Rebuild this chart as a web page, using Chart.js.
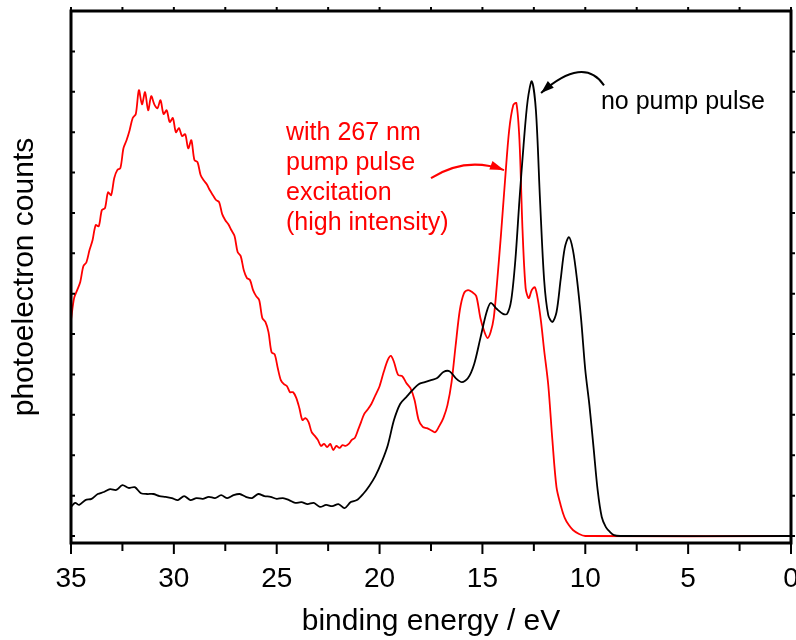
<!DOCTYPE html>
<html>
<head>
<meta charset="utf-8">
<script src="https://cdn.jsdelivr.net/npm/chart.js@4"></script>
<style>
  html, body { margin: 0; padding: 0; background: #fff; }
  #wrap { width: 796px; height: 640px; }
</style>
</head>
<body>
<div id="wrap"><canvas id="spectrum" width="796" height="640"></canvas></div>
<script>
// no pump pulse (black)
const blackEnergy = [35.0, 34.8, 34.6, 34.3, 34.0, 33.7, 33.4, 33.1, 32.8, 32.5, 32.2, 31.9, 31.6, 31.3, 31.0,
  30.7, 30.4, 30.1, 29.8, 29.5, 29.2, 28.9, 28.6, 28.3, 28.0, 27.7, 27.4, 27.1, 26.8, 26.5, 26.2, 25.9, 25.6,
  25.3, 25.0, 24.7, 24.4, 24.1, 23.8, 23.5, 23.2, 22.9, 22.6, 22.3, 22.0, 21.7, 21.4, 21.1, 20.8, 20.5, 20.2,
  19.9, 19.6, 19.3, 19.0, 18.7, 18.4, 18.1, 17.8, 17.5, 17.2, 16.9, 16.6, 16.3, 16.0, 15.7, 15.4, 15.1, 14.8,
  14.6, 14.3, 14.0, 13.8, 13.6, 13.4, 13.2, 13.0, 12.8, 12.6, 12.4, 12.2, 12.0, 11.8, 11.6, 11.4, 11.2, 11.0,
  10.8, 10.6, 10.4, 10.2, 10.0, 9.8, 9.6, 9.4, 9.2, 9.0, 8.8, 8.6, 8.3, 0];
const blackCounts = [0.72, 0.82, 0.77, 0.89, 0.92, 1.04, 1.09, 1.16, 1.14, 1.26, 1.19, 1.21, 1.06, 1.04, 1.04,
  0.99, 0.97, 0.94, 0.89, 0.99, 0.89, 0.94, 0.92, 0.97, 0.94, 1.01, 0.94, 1.01, 1.04, 0.97, 0.94, 1.04, 0.99,
  0.97, 0.92, 0.94, 0.89, 0.82, 0.84, 0.79, 0.82, 0.72, 0.77, 0.74, 0.79, 0.69, 0.84, 0.89, 1.04, 1.24, 1.49,
  1.83, 2.25, 2.87, 3.27, 3.44, 3.61, 3.76, 3.81, 3.86, 3.91, 4.06, 4.08, 3.91, 3.81, 3.91, 4.26, 4.90, 5.54,
  5.77, 5.62, 5.50, 5.50, 5.84, 6.83, 8.32, 9.68, 10.79, 11.26, 10.54, 8.32, 6.34, 5.47, 5.30, 5.54, 6.34, 7.13,
  7.40, 7.08, 6.34, 5.35, 4.11, 3.24, 2.20, 1.14, 0.47, 0.22, 0.10, 0.02, 0, 0];

// with 267 nm pump pulse (red)
const redEnergy = [35.0, 34.85, 34.7, 34.55, 34.4, 34.25, 34.1, 33.95, 33.8, 33.65, 33.5, 33.35, 33.2, 33.05,
  32.9, 32.75, 32.6, 32.45, 32.3, 32.15, 32.0, 31.85, 31.7, 31.55, 31.4, 31.25, 31.1, 30.95, 30.8, 30.65, 30.5,
  30.35, 30.2, 30.05, 29.9, 29.75, 29.6, 29.45, 29.3, 29.15, 29.0, 28.85, 28.7, 28.55, 28.4, 28.25, 28.1, 27.95,
  27.8, 27.65, 27.5, 27.35, 27.2, 27.05, 26.9, 26.75, 26.6, 26.45, 26.3, 26.15, 26.0, 25.85, 25.7, 25.55, 25.4,
  25.25, 25.1, 24.95, 24.8, 24.65, 24.5, 24.35, 24.2, 24.05, 23.9, 23.75, 23.6, 23.45, 23.3, 23.15, 23.0, 22.85,
  22.7, 22.55, 22.4, 22.25, 22.1, 21.95, 21.8, 21.65, 21.5, 21.35, 21.2, 21.05, 20.9, 20.75, 20.6, 20.4, 20.2,
  20.0, 19.8, 19.6, 19.45, 19.3, 19.1, 18.9, 18.7, 18.5, 18.3, 18.1, 17.9, 17.7, 17.5, 17.3, 17.1, 16.9, 16.7,
  16.5, 16.3, 16.1, 15.9, 15.7, 15.5, 15.3, 15.1, 14.9, 14.75, 14.6, 14.45, 14.3, 14.1, 13.9, 13.7, 13.5, 13.35,
  13.2, 13.05, 12.9, 12.75, 12.6, 12.45, 12.3, 12.15, 12.0, 11.8, 11.6, 11.4, 11.2, 11.0, 10.8, 10.6, 10.3,
  10.0, 0];
const redCounts = [5.35, 5.89, 6.09, 6.29, 6.68, 6.78, 7.08, 7.33, 7.70, 7.67, 8.07, 8.12, 8.51, 8.44,
  8.86, 9.06, 9.11, 9.60, 9.80, 10.05, 10.35, 10.45, 11.04, 10.69, 10.99, 10.54, 10.89, 10.69, 10.59, 10.79, 10.45,
  10.54, 10.25, 10.35, 10.00, 10.10, 9.90, 9.95, 9.60, 9.80, 9.31, 9.26, 8.94, 8.81, 8.71, 8.56, 8.44, 8.32,
  8.27, 7.97, 7.82, 7.72, 7.57, 7.43, 7.03, 6.93, 6.58, 6.39, 6.34, 6.09, 5.94, 5.84, 5.40, 5.30, 5.05,
  4.55, 4.50, 4.16, 3.86, 3.76, 3.71, 3.56, 3.56, 3.42, 3.17, 2.87, 2.92, 2.82, 2.57, 2.48, 2.38, 2.23,
  2.28, 2.20, 2.28, 2.13, 2.23, 2.18, 2.25, 2.23, 2.28, 2.38, 2.43, 2.62, 2.82, 3.02, 3.12, 3.27, 3.49,
  3.71, 4.06, 4.36, 4.46, 4.31, 3.99, 3.96, 3.79, 3.66, 3.37, 2.87, 2.70, 2.67, 2.62, 2.57, 2.72, 2.92, 3.24,
  3.81, 4.73, 5.59, 6.01, 6.09, 6.04, 5.94, 5.40, 5.05, 4.90, 5.05, 5.40, 6.21, 7.45, 8.81, 10.05, 10.67, 10.72,
  9.80, 7.57, 6.14, 5.89, 6.09, 6.16, 5.84, 5.30, 4.60, 3.74, 2.38, 1.21, 0.77, 0.45, 0.27, 0.15, 0.05,
  0, 0];

// axis ticks
const xMajorTicks = [35, 30, 25, 20, 15, 10, 5, 0];
const xMinorTicks = [32.5, 27.5, 22.5, 17.5, 12.5, 7.5, 2.5];
const yTicks = [0, 1, 2, 3, 4, 5, 6, 7, 8, 9, 10, 11, 12];

// annotations (data coordinates: energy, counts)
const noPumpText = 'no pump pulse';
const noPumpAt = [9.24, 10.74];
const noPumpArrow = [[9.09, 11.16], [10.09, 11.9], [12.15, 10.97]];
const pumpText = ['with 267 nm', 'pump pulse', 'excitation', '(high intensity)'];
const pumpAt = [24.55, 9.98];
const pumpArrow = [[17.5, 8.86], [15.8, 9.41], [13.95, 9.06]];

const FONT = '"Liberation Sans", Arial, sans-serif';
const toPoints = (xs, ys) => xs.map((x, i) => ({ x, y: ys[i] }));

// Frame, tick marks, text and arrows drawn on top of the chart
const framePlugin = {
  id: 'frame',
  afterDraw(chart) {
    const { ctx, chartArea: a, scales: { x, y } } = chart;
    ctx.save();
    ctx.strokeStyle = '#000';
    ctx.lineWidth = 3;
    ctx.strokeRect(a.left, a.top, a.right - a.left, a.bottom - a.top);

    // x tick marks, outward on bottom and top
    ctx.lineWidth = 2;
    const xTick = (v, len) => {
      const px = x.getPixelForValue(v);
      ctx.beginPath();
      ctx.moveTo(px, a.bottom); ctx.lineTo(px, a.bottom + len);
      ctx.moveTo(px, a.top); ctx.lineTo(px, a.top - 4);
      ctx.stroke();
    };
    xMajorTicks.forEach(v => xTick(v, 11));
    xMinorTicks.forEach(v => xTick(v, 8));
    // y tick marks
    yTicks.forEach(v => {
      const py = y.getPixelForValue(v);
      ctx.beginPath();
      ctx.moveTo(a.left, py); ctx.lineTo(a.left + 4, py);
      ctx.moveTo(a.right, py); ctx.lineTo(a.right + 4, py);
      ctx.stroke();
    });

    const drawArrow = (pts, color, headLen, headW) => {
      const p = pts.map(([e, c]) => [x.getPixelForValue(e), y.getPixelForValue(c)]);
      ctx.strokeStyle = color;
      ctx.fillStyle = color;
      ctx.lineWidth = 2;
      ctx.beginPath();
      ctx.moveTo(p[0][0], p[0][1]);
      ctx.quadraticCurveTo(p[1][0], p[1][1], p[2][0], p[2][1]);
      ctx.stroke();
      const ang = Math.atan2(p[2][1] - p[1][1], p[2][0] - p[1][0]);
      ctx.beginPath();
      ctx.moveTo(p[2][0], p[2][1]);
      ctx.lineTo(p[2][0] - headLen * Math.cos(ang) + headW / 2 * Math.sin(ang),
                 p[2][1] - headLen * Math.sin(ang) - headW / 2 * Math.cos(ang));
      ctx.lineTo(p[2][0] - headLen * Math.cos(ang) - headW / 2 * Math.sin(ang),
                 p[2][1] - headLen * Math.sin(ang) + headW / 2 * Math.cos(ang));
      ctx.closePath();
      ctx.fill();
    };
    drawArrow(noPumpArrow, '#000', 13, 9);
    drawArrow(pumpArrow, '#ff0000', 14, 9);

    ctx.font = `25px ${FONT}`;
    ctx.textBaseline = 'middle';
    ctx.textAlign = 'left';
    ctx.fillStyle = '#000';
    ctx.fillText(noPumpText, x.getPixelForValue(noPumpAt[0]), y.getPixelForValue(noPumpAt[1]));
    ctx.fillStyle = '#ff0000';
    pumpText.forEach((line, i) => {
      ctx.fillText(line, x.getPixelForValue(pumpAt[0]), y.getPixelForValue(pumpAt[1]) + i * 30);
    });
    ctx.restore();
  }
};

const ctx = document.getElementById('spectrum').getContext('2d');
new Chart(ctx, {
  type: 'line',
  data: {
    datasets: [
      {
        label: 'no pump pulse',
        data: toPoints(blackEnergy, blackCounts),
        borderColor: '#000',
        borderWidth: 1.8,
        pointRadius: 0,
        tension: 0.3,
        fill: false
      },
      {
        label: 'with 267 nm pump pulse',
        data: toPoints(redEnergy, redCounts),
        borderColor: '#ff0000',
        borderWidth: 1.8,
        pointRadius: 0,
        tension: 0.3,
        fill: false
      }
    ]
  },
  options: {
    responsive: false,
    animation: false,
    layout: { padding: { top: 11, right: 5, left: 0, bottom: 0 } },
    plugins: {
      legend: { display: false },
      tooltip: { enabled: false }
    },
    scales: {
      x: {
        type: 'linear',
        reverse: true,
        min: 0,
        max: 35,
        grid: { display: false },
        border: { display: false },
        afterBuildTicks: (scale) => { scale.ticks = xMajorTicks.map(v => ({ value: v })); },
        ticks: {
          autoSkip: false,
          maxRotation: 0,
          padding: 11,
          color: '#000',
          font: { family: FONT, size: 28 }
        },
        title: {
          display: true,
          text: 'binding energy / eV',
          color: '#000',
          padding: { top: 0, bottom: 0 },
          font: { family: FONT, size: 30 }
        },
        afterFit: (scale) => {
          scale.height = 97;
          scale.paddingLeft = 0;
          scale.paddingRight = 0;
        }
      },
      y: {
        type: 'linear',
        min: -0.173,
        max: 13,
        grid: { display: false },
        border: { display: false },
        ticks: { display: false },
        title: {
          display: true,
          text: 'photoelectron counts',
          color: '#000',
          padding: { top: 7, bottom: 0 },
          font: { family: FONT, size: 30 }
        },
        afterFit: (scale) => { scale.width = 71; }
      }
    }
  },
  plugins: [framePlugin]
});
</script>
</body>
</html>
